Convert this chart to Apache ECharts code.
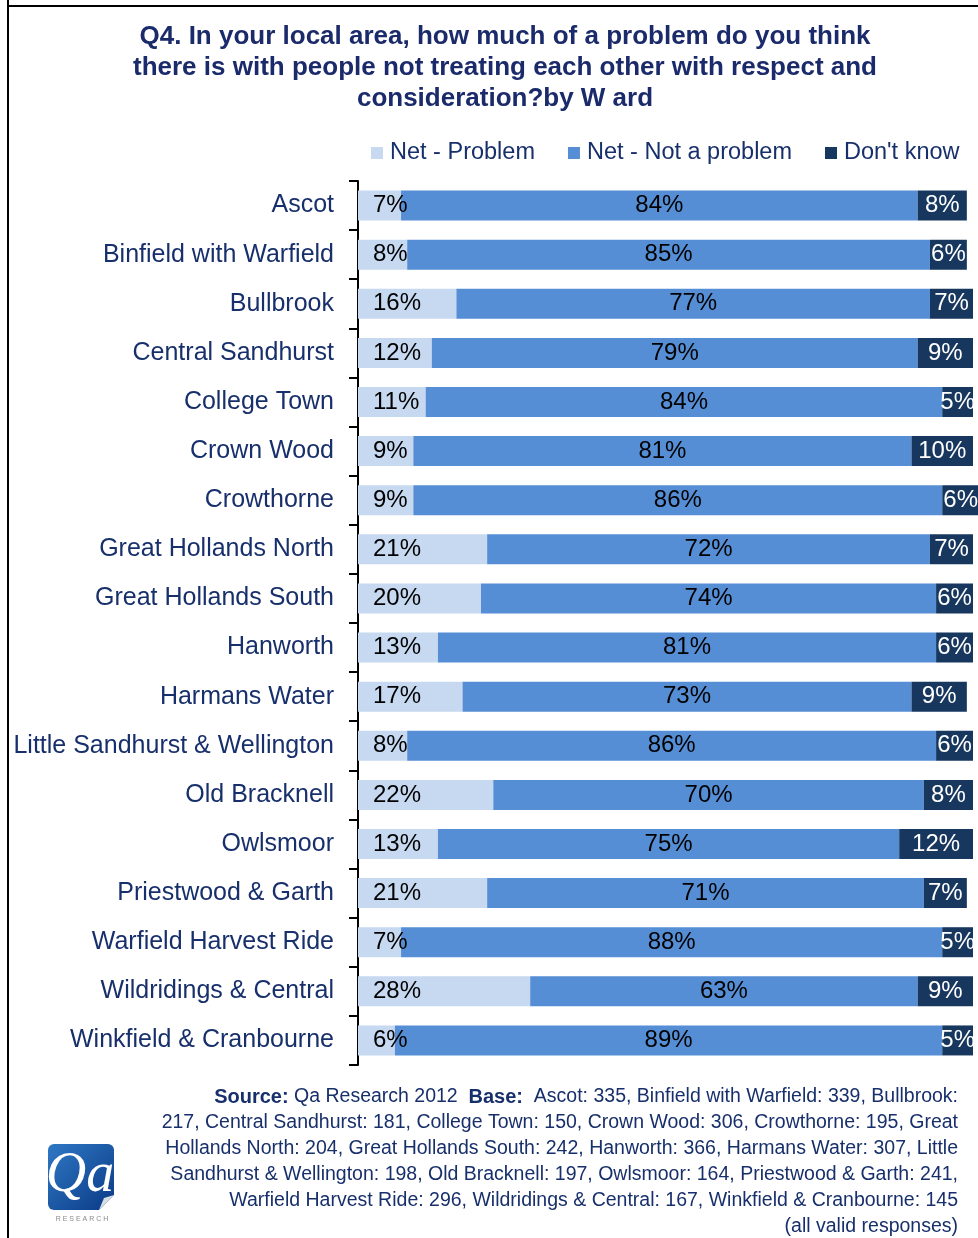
<!DOCTYPE html>
<html>
<head>
<meta charset="utf-8">
<script src="https://cdn.jsdelivr.net/npm/echarts@6/dist/echarts.min.js"></script>
<style>
html,body{margin:0;padding:0;background:#fff;}
#chart{width:978px;height:1238px;}
</style>
</head>
<body>
<div id="chart"></div>
<script>
const categories = ['Ascot','Binfield with Warfield','Bullbrook','Central Sandhurst','College Town','Crown Wood','Crowthorne','Great Hollands North','Great Hollands South','Hanworth','Harmans Water','Little Sandhurst & Wellington','Old Bracknell','Owlsmoor','Priestwood & Garth','Warfield Harvest Ride','Wildridings & Central','Winkfield & Cranbourne'];
const netProblem = [7,8,16,12,11,9,9,21,20,13,17,8,22,13,21,7,28,6];
const netNotProblem = [84,85,77,79,84,81,86,72,74,81,73,86,70,75,71,88,63,89];
const dontKnow = [8,6,7,9,5,10,6,7,6,6,9,6,8,12,7,5,9,5];
const seriesNames = ['Net - Problem','Net - Not a problem',"Don't know"];
const titleLines = ['Q4. In your local area, how much of a problem do you think','there is with people not treating each other with respect and','consideration?by W ard'];
const footerLines = [
  '{b|Source:} Qa Research 2012  {b|Base:}  Ascot: 335, Binfield with Warfield: 339, Bullbrook:',
  '217, Central Sandhurst: 181, College Town: 150, Crown Wood: 306, Crowthorne: 195, Great',
  'Hollands North: 204, Great Hollands South: 242, Hanworth: 366, Harmans Water: 307, Little',
  'Sandhurst & Wellington: 198, Old Bracknell: 197, Owlsmoor: 164, Priestwood & Garth: 241,',
  'Warfield Harvest Ride: 296, Wildridings & Central: 167, Winkfield & Cranbourne: 145',
  '(all valid responses)'
];

const navy = '#172f6b';
const colors = ['#c6d9f1','#558ed5','#17375e'];
const chart = echarts.init(document.getElementById('chart'));

const graphics = [];
// frame
graphics.push({type:'line', shape:{x1:8,y1:0,x2:8,y2:1238}, style:{stroke:'#000',lineWidth:2}});
graphics.push({type:'line', shape:{x1:7,y1:6,x2:978,y2:6}, style:{stroke:'#000',lineWidth:2}});
// title
titleLines.forEach((t,i)=>{
  graphics.push({type:'text', x:505, y:37+i*31, style:{text:t, textAlign:'center', textVerticalAlign:'middle', fill:'#1a2a6a', font:'bold 26px "Liberation Sans", Arial, sans-serif'}});
});
// footer
footerLines.forEach((t,i)=>{
  graphics.push({type:'text', x:958, y:1097+i*26, style:{text:t, textAlign:'right', textVerticalAlign:'middle', fill:navy, font:'19.5px "Liberation Sans", Arial, sans-serif',
    rich:{b:{fontWeight:'bold', fontSize:20, fill:navy, fontFamily:'"Liberation Sans", Arial, sans-serif'}}}});
});
// logo
graphics.push({type:'rect', shape:{x:48,y:1144,width:66,height:66,r:6}, style:{fill:new echarts.graphic.LinearGradient(0,0,1,1,[{offset:0,color:'#2f78c4'},{offset:1,color:'#0a3a86'}])}});
graphics.push({type:'polygon', shape:{points:[[99,1210],[114,1195],[114,1210]]}, style:{fill:'#ffffff'}});
graphics.push({type:'polygon', shape:{points:[[99,1210],[114,1195],[104,1198]]}, style:{fill:'#d8dde6'}});
graphics.push({type:'text', x:80, y:1176, style:{text:'Qa', textAlign:'center', textVerticalAlign:'middle', fill:'#ffffff', font:'italic 56px "Liberation Serif", "DejaVu Serif", serif'}});
graphics.push({type:'text', x:82, y:1219, style:{text:'R E S E A R C H', textAlign:'center', textVerticalAlign:'middle', fill:'#8a8a8a', font:'7px "Liberation Sans", Arial, sans-serif'}});

const data = [netProblem, netNotProblem, dontKnow];
const series = data.map((arr,i)=>({
  name: seriesNames[i],
  type:'bar',
  stack:'total',
  barWidth:30,
  clip:false,
  data: arr,
  itemStyle:{color:colors[i]},
  label:{
    show:true,
    position: i===0 ? 'insideLeft' : 'inside',
    distance: i===0 ? 15 : 5,
    formatter:'{c}%',
    color: i===2 ? '#ffffff' : '#000000',
    fontSize:24,
    fontFamily:'"Liberation Sans", Arial, sans-serif'
  },
  emphasis:{disabled:true}
}));

chart.setOption({
  animation:false,
  legend:{
    left:366, top:136,
    itemWidth:12, itemHeight:12, itemGap:33,
    icon:'rect',
    data: seriesNames,
    textStyle:{color:navy, fontSize:23.5, fontFamily:'"Liberation Sans", Arial, sans-serif', padding:[0,0,0,2]}
  },
  grid:{left:358, top:181, height:884, width:615, containLabel:false},
  xAxis:{type:'value', min:0, max:100, show:false},
  yAxis:{
    type:'category', inverse:true, data:categories,
    axisLine:{show:true, lineStyle:{color:'#000', width:2}},
    axisTick:{show:true, length:9, lineStyle:{color:'#000', width:2}},
    axisLabel:{margin:24, color:navy, fontSize:25, fontFamily:'"Liberation Sans", Arial, sans-serif'}
  },
  series: series,
  graphic: graphics
});
</script>
</body>
</html>
